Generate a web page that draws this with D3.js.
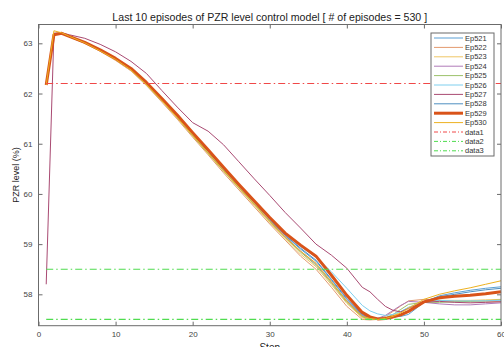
<!DOCTYPE html>
<html>
<head>
<meta charset="utf-8">
<script src="https://cdn.jsdelivr.net/npm/d3@7"></script>
<style>
  body { margin: 0; background: #fff; }
  svg { font-family: "Liberation Sans", Arial, sans-serif; }
</style>
</head>
<body>
<div id="canvas"></div>
<script>
// step positions where values were read
const steps = [1, 2, 3, 4, 6, 8, 10, 12, 14, 16, 18, 20, 22, 24, 26, 28, 30, 32, 34, 36,
  38, 40, 42, 43, 44, 45, 46, 47, 48, 50, 52, 54, 56, 58, 60];

const ep521 = [62.17, 63.18, 63.20, 63.14, 63.02, 62.86, 62.69, 62.48, 62.20, 61.88, 61.54, 61.19, 60.85, 60.50, 60.16, 59.83, 59.49, 59.17, 58.90, 58.66,
  58.28, 57.90, 57.58, 57.53, 57.52, 57.53, 57.55, 57.56, 57.60, 57.84, 57.97, 58.03, 58.08, 58.12, 58.15];
const ep522 = [62.17, 63.18, 63.19, 63.13, 63.00, 62.84, 62.66, 62.45, 62.16, 61.83, 61.49, 61.13, 60.78, 60.42, 60.08, 59.74, 59.40, 59.08, 58.76, 58.50,
  58.14, 57.76, 57.50, 57.49, 57.50, 57.56, 57.66, 57.77, 57.87, 57.90, 57.88, 57.86, 57.85, 57.85, 57.86];
const ep523 = [62.17, 63.20, 63.20, 63.13, 63.01, 62.85, 62.67, 62.46, 62.17, 61.85, 61.51, 61.15, 60.80, 60.45, 60.11, 59.77, 59.43, 59.11, 58.80, 58.55,
  58.19, 57.82, 57.53, 57.50, 57.50, 57.53, 57.58, 57.65, 57.74, 57.86, 57.88, 57.88, 57.88, 57.89, 57.90];
const ep524 = [62.17, 63.18, 63.20, 63.14, 63.02, 62.86, 62.68, 62.47, 62.19, 61.87, 61.53, 61.17, 60.82, 60.48, 60.14, 59.80, 59.47, 59.15, 58.86, 58.60,
  58.24, 57.87, 57.57, 57.52, 57.52, 57.58, 57.68, 57.78, 57.86, 57.84, 57.81, 57.79, 57.79, 57.81, 57.83];
const ep525 = [62.17, 63.18, 63.20, 63.14, 63.01, 62.86, 62.68, 62.47, 62.18, 61.86, 61.52, 61.16, 60.81, 60.46, 60.12, 59.79, 59.45, 59.13, 58.84, 58.58,
  58.22, 57.84, 57.55, 57.51, 57.50, 57.53, 57.60, 57.70, 57.80, 57.84, 57.84, 57.85, 57.86, 57.87, 57.89];
const ep526 = [62.17, 63.18, 63.20, 63.14, 63.02, 62.87, 62.70, 62.50, 62.21, 61.89, 61.56, 61.21, 60.87, 60.52, 60.18, 59.85, 59.52, 59.21, 58.95, 58.74,
  58.45, 58.12, 57.78, 57.67, 57.61, 57.58, 57.60, 57.66, 57.74, 57.85, 57.88, 57.87, 57.87, 57.87, 57.88];
const ep527 = [58.20, 63.20, 63.21, 63.17, 63.10, 62.98, 62.83, 62.64, 62.40, 62.06, 61.73, 61.42, 61.25, 60.98, 60.64, 60.30, 59.97, 59.63, 59.32, 59.00,
  58.78, 58.52, 58.14, 58.05, 57.90, 57.76, 57.68, 57.65, 57.72, 57.84, 57.86, 57.84, 57.83, 57.84, 57.85];
const ep528 = [62.17, 63.18, 63.20, 63.14, 63.02, 62.86, 62.69, 62.48, 62.20, 61.88, 61.54, 61.19, 60.85, 60.50, 60.16, 59.83, 59.50, 59.18, 58.92, 58.68,
  58.30, 57.92, 57.60, 57.53, 57.51, 57.52, 57.54, 57.58, 57.66, 57.86, 57.95, 58.00, 58.05, 58.09, 58.12];
const ep529 = [62.17, 63.17, 63.20, 63.14, 63.02, 62.87, 62.70, 62.50, 62.22, 61.90, 61.57, 61.22, 60.88, 60.53, 60.19, 59.86, 59.53, 59.22, 58.98, 58.76,
  58.38, 57.98, 57.64, 57.55, 57.51, 57.52, 57.55, 57.59, 57.66, 57.85, 57.93, 57.96, 57.98, 58.01, 58.05];
const ep530 = [62.17, 63.25, 63.21, 63.14, 63.01, 62.85, 62.68, 62.47, 62.18, 61.86, 61.52, 61.17, 60.82, 60.47, 60.13, 59.80, 59.46, 59.14, 58.86, 58.62,
  58.25, 57.86, 57.56, 57.52, 57.50, 57.52, 57.56, 57.63, 57.72, 57.90, 58.00, 58.07, 58.13, 58.20, 58.27];

const episodeNames = ["Ep521", "Ep522", "Ep523", "Ep524", "Ep525", "Ep526", "Ep527", "Ep528", "Ep529", "Ep530"];
const episodeValues = [ep521, ep522, ep523, ep524, ep525, ep526, ep527, ep528, ep529, ep530];
const episodeColors = ["#5a9fd4", "#e39a6e", "#efc766", "#b07ab8", "#9cc26a", "#7fcfee", "#a94a72", "#4f8fc0", "#d95319", "#edb120"];

// reference levels
const refNames = ["data1", "data2", "data3"];
const refLevels = [62.2, 58.5, 57.5];
const refColors = ["#f04848", "#4fdc4f", "#4fdc4f"];
const refSteps = [1, 60];

const xTicks = [0, 10, 20, 30, 40, 50, 60];
const yTicks = [58, 59, 60, 61, 62, 63];

const width = 504;
const height = 347;
const margin = { top: 24.5, left: 38.5, bottom: 21.3, right: 3 };
const iwidth = width - margin.left - margin.right;
const iheight = height - margin.top - margin.bottom;

const svg = d3.select("#canvas").append("svg")
  .attr("width", width)
  .attr("height", height);

const g = svg.append("g").attr("transform", `translate(${margin.left},${margin.top})`);

const x = d3.scaleLinear().domain([0, 60]).range([0, iwidth]);
const y = d3.scaleLinear().domain([57.375, 63.375]).range([iheight, 0]);

const line = d3.line()
  .x(d => x(d[0]))
  .y(d => y(d[1]));

// episode curves
episodeValues.forEach((vals, i) => {
  g.append("path")
    .datum(steps.map((s, j) => [s, vals[j]]))
    .attr("fill", "none")
    .attr("stroke", episodeColors[i])
    .attr("stroke-width", episodeNames[i] === "Ep529" ? 3 : 1)
    .attr("stroke-linejoin", "round")
    .attr("d", line);
});

// dash-dot reference lines
refLevels.forEach((v, i) => {
  g.append("path")
    .datum(refSteps.map(s => [s, v]))
    .attr("fill", "none")
    .attr("stroke", refColors[i])
    .attr("stroke-width", 1.2)
    .attr("stroke-dasharray", "7,3,1.5,3")
    .attr("d", line);
});

// axes, ticks inside like matlab
const axisColor = "#6b6b6b";
const styleAxis = sel => {
  sel.select(".domain").remove();
  sel.selectAll("line").attr("stroke", axisColor);
  sel.selectAll("text").attr("fill", "#444").style("font-size", "8px");
};

g.append("g")
  .attr("transform", `translate(0,${iheight})`)
  .call(d3.axisBottom(x).tickValues(xTicks).tickSize(-4).tickPadding(5.5).tickFormat(d3.format("d")))
  .call(styleAxis);

g.append("g")
  .call(d3.axisTop(x).tickValues(xTicks).tickSize(-4).tickFormat(""))
  .call(styleAxis);

g.append("g")
  .call(d3.axisLeft(y).tickValues(yTicks).tickSize(-4).tickPadding(6).tickFormat(d3.format("d")))
  .call(styleAxis);

g.append("g")
  .attr("transform", `translate(${iwidth},0)`)
  .call(d3.axisRight(y).tickValues(yTicks).tickSize(-4).tickFormat(""))
  .call(styleAxis);

g.append("rect")
  .attr("width", iwidth)
  .attr("height", iheight)
  .attr("fill", "none")
  .attr("stroke", axisColor)
  .attr("stroke-width", 1);

// title and labels
svg.append("text")
  .attr("x", margin.left + iwidth / 2)
  .attr("y", 21)
  .attr("text-anchor", "middle")
  .style("font-size", "10.6px")
  .attr("fill", "#222")
  .text("Last 10 episodes of PZR level control model [ # of episodes = 530 ]");

svg.append("text")
  .attr("transform", "rotate(-90)")
  .attr("x", -175)
  .attr("y", 19)
  .attr("text-anchor", "middle")
  .style("font-size", "9px")
  .attr("fill", "#222")
  .text("PZR level (%)");

svg.append("text")
  .attr("x", margin.left + iwidth / 2)
  .attr("y", 351)
  .attr("text-anchor", "middle")
  .style("font-size", "10px")
  .attr("fill", "#222")
  .text("Step");

// legend
const legendItems = episodeNames.map((n, i) => ({ name: n, color: episodeColors[i], width: n === "Ep529" ? 3 : 1, dash: null }))
  .concat(refNames.map((n, i) => ({ name: n, color: refColors[i], width: 1, dash: "4,2,1,2" })));

const legend = svg.append("g").attr("transform", "translate(431,33)");
legend.append("rect")
  .attr("width", 63)
  .attr("height", 123)
  .attr("fill", "#fff")
  .attr("stroke", axisColor)
  .attr("stroke-width", 1);

const rows = legend.selectAll("g.row").data(legendItems).enter().append("g")
  .attr("class", "row")
  .attr("transform", (d, i) => `translate(0,${5 + i * 9.4})`);

rows.append("line")
  .attr("x1", 3).attr("x2", 32)
  .attr("stroke", d => d.color)
  .attr("stroke-width", d => d.width)
  .attr("stroke-dasharray", d => d.dash);

rows.append("text")
  .attr("x", 34)
  .attr("dy", "0.35em")
  .style("font-size", "7.5px")
  .attr("fill", "#333")
  .text(d => d.name);
</script>
</body>
</html>
